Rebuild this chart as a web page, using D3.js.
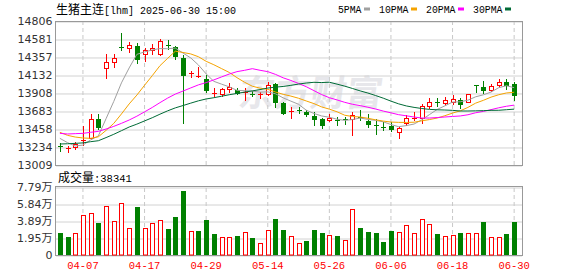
<!DOCTYPE html>
<html><head><meta charset="utf-8">
<script src="https://cdn.jsdelivr.net/npm/d3@7/dist/d3.min.js"></script>
<style>
html,body{margin:0;padding:0;background:#fff;}
svg{display:block;}
</style></head><body>
<svg id="c" width="578" height="276"></svg>
<script>
// ---------- data ----------
const dates = ["04-01","04-02","04-03","04-07","04-08","04-09","04-10","04-11","04-14","04-15",
"04-16","04-17","04-18","04-21","04-22","04-23","04-24","04-25","04-28","04-29",
"04-30","05-06","05-07","05-08","05-09","05-12","05-13","05-14","05-15","05-16",
"05-19","05-20","05-21","05-22","05-23","05-26","05-27","05-28","05-29","05-30",
"06-03","06-04","06-05","06-06","06-09","06-10","06-11","06-12","06-13","06-16",
"06-17","06-18","06-19","06-20","06-23","06-24","06-25","06-26","06-27","06-30"];
const open = [13245,13205,13230,13305,13350,13580,14225,14290,14482,14465,
14494,14394,14448,14394,14512,14477,14348,14148,14118,14078,
13900,13899,13957,13941,13912,13890,13880,13893,14016,13787,
13668,13700,13666,13620,13578,13567,13575,13578,13579,13610,
13558,13512,13488,13496,13425,13537,13590,13599,13749,13795,
13787,13799,13820,13791,14002,13982,13941,14011,14045,14016];
const high = [13285,13245,13300,13495,13645,13645,14390,14390,14652,14540,
14531,14465,14523,14581,14569,14498,14382,14182,14236,14132,
13966,13974,14028,13974,13974,13932,13916,14049,14028,13800,
13729,13729,13695,13675,13599,13641,13612,13612,13675,13695,
13641,13579,13542,13549,13487,13633,13666,13770,13841,13841,
13858,13882,13841,13899,14007,14057,14016,14078,14078,14041];
const low = [13180,13165,13205,13258,13333,13458,14090,14236,14444,14415,
14286,14311,14390,14382,14453,14336,13537,14103,14107,13916,
13870,13870,13924,13891,13820,13866,13849,13882,13737,13645,
13591,13658,13616,13508,13475,13558,13508,13517,13383,13570,
13483,13392,13446,13433,13350,13508,13570,13537,13716,13745,
13758,13766,13716,13791,13924,13903,13932,13999,13957,13820];
const close = [13235,13215,13265,13315,13580,13487,14290,14340,14475,14510,
14336,14440,14465,14560,14500,14373,14132,14158,14124,13945,
13906,13957,13986,13911,13918,13884,13892,14007,13791,13662,
13678,13695,13641,13583,13508,13599,13568,13572,13633,13602,
13517,13505,13482,13462,13467,13591,13598,13745,13791,13787,
13816,13829,13766,13891,13996,13945,13995,14041,14011,13880];
const prevClose = 13260;
const volume = [25200,21000,24800,45800,47700,36700,55700,39000,59200,30900,
55000,30900,36300,39700,29800,43100,73300,27500,27500,40100,
24100,20600,20600,21800,26300,19500,13700,28600,41200,28600,
21800,13700,16000,28600,25200,22500,21800,17200,52700,30900,
26300,25200,14900,27500,26300,34400,25200,41200,35500,24100,
21800,22900,25200,25200,25200,37800,20600,20600,24100,38341];
const ma5 = [13342,13288,13246,13258,13322,13372,13587,13802,14034,14220,
14390,14420,14445,14462,14460,14468,14406,14345,14257,14146,
14053,14018,13984,13941,13936,13931,13918,13922,13898,13847,
13806,13767,13693,13652,13621,13605,13580,13566,13576,13595,
13578,13566,13548,13514,13487,13501,13520,13573,13638,13702,
13747,13794,13798,13818,13860,13885,13919,13974,13998,13974];
const ma10 = [13417,13379,13358,13346,13342,13361,13441,13528,13646,13771,
13881,14004,14124,14248,14340,14429,14413,14395,14360,14303,
14260,14212,14164,14099,14041,13992,13968,13953,13920,13891,
13869,13842,13808,13775,13734,13706,13673,13630,13614,13608,
13592,13573,13557,13545,13541,13540,13543,13560,13576,13595,
13624,13657,13685,13728,13781,13816,13856,13886,13908,13917];
const ma20 = [13404,13396,13400,13404,13417,13429,13458,13491,13529,13570,
13618,13672,13727,13787,13844,13894,13932,13971,14009,14037,
14071,14108,14144,14174,14191,14211,14191,14174,14140,14097,
14064,14027,13986,13937,13888,13849,13821,13791,13767,13750,
13730,13708,13682,13660,13637,13623,13608,13595,13595,13601,
13608,13615,13621,13636,13661,13678,13700,13723,13742,13756];
const ma30 = [13271,13274,13279,13285,13300,13312,13351,13392,13437,13483,
13519,13559,13599,13643,13685,13722,13751,13781,13810,13833,
13849,13867,13886,13902,13919,13934,13950,13969,13981,13989,
14003,14019,14032,14041,14038,14042,14018,13993,13964,13934,
13907,13876,13843,13806,13772,13746,13728,13714,13703,13698,
13695,13691,13683,13683,13685,13687,13691,13692,13699,13706];
const priceTicks = [14806,14581,14357,14132,13908,13683,13458,13234,13009];
const volTicks = [0,19475,38950,58425,77900];
const volTickLabels = ["0","1.95万","3.89万","5.84万","7.79万"];
const dateTicks = ["04-07","04-17","04-29","05-14","05-26","06-06","06-18","06-30"];
const maNames = ["5PMA","10PMA","20PMA","30PMA"];
const maSeries = [ma5, ma10, ma20, ma30];
const maColors = ["#a0a0a0","#f5a300","#ff00ff","#006b36"];
const titleCn = "生猪主连";
const titleLatin = "[lhm] 2025-06-30 15:00";
const volLabelCn = "成交量";
const volLabelNum = ":38341";
const watermark = "东方财富";

// ---------- layout ----------
const L = 56, R = 522, T = 21, B = 165, VT = 187, VB = 255;
const UP = "#ff0000", DOWN = "#008000";
const svg = d3.select("#c");
const x = d3.scaleBand().domain(dates).range([56, 518]);
const bw = x.bandwidth();
const cx = d => Math.round(x(d) + bw / 2);
const y = d3.scaleLinear().domain([13009, 14806]).range([B, T]);
const yv = d3.scaleLinear().domain([0, 77900]).range([VB, VT]);

// watermark
svg.append("text").attr("x", 238).attr("y", 106)
  .attr("transform", "skewX(-8) translate(14,0)")
  .style("font-family", "'Noto Sans CJK SC'").style("font-weight", "bold")
  .style("font-size", "36px").style("fill", "#e7e7eb")
  .text(watermark);

// grid (horizontal)
function hgrid(scale, ticks, top, bottom) {
  const g = svg.append("g").attr("transform", `translate(${L},0.5)`)
    .call(d3.axisLeft(scale).tickValues(ticks).tickSize(-(R - L)).tickFormat(""));
  g.select(".domain").remove();
  g.selectAll("line").attr("stroke", "#d2d2d2");
}
hgrid(y, priceTicks);
hgrid(yv, volTicks);
// grid (vertical dashed)
function vgrid(top, bottom) {
  const g = svg.append("g").attr("transform", `translate(0,${bottom})`)
    .call(d3.axisBottom(x).tickValues(dateTicks).tickSize(-(bottom - top)).tickFormat(""));
  g.select(".domain").remove();
  g.selectAll("line").attr("stroke", "#c8c8c8").attr("stroke-dasharray", "4,3");
}
vgrid(T, B);
vgrid(VT, VB);

// frames
svg.append("rect").attr("x", 55.5).attr("y", 21.5).attr("width", 467).attr("height", 144)
  .attr("fill", "none").attr("stroke", "#999");
svg.append("rect").attr("x", 55.5).attr("y", 186.5).attr("width", 467).attr("height", 69)
  .attr("fill", "none").attr("stroke", "#999");

// candles
const idx = d3.range(dates.length);
const cg = svg.append("g");
idx.forEach(i => {
  const d = dates[i], c = cx(d);
  const up = close[i] >= open[i];
  const col = up ? UP : DOWN;
  cg.append("line").attr("x1", c + 0.5).attr("x2", c + 0.5)
    .attr("y1", Math.round(y(high[i]))).attr("y2", Math.round(y(low[i])) + 1)
    .attr("stroke", col).attr("stroke-width", 1);
  const yt = Math.round(y(Math.max(open[i], close[i])));
  const yb = Math.round(y(Math.min(open[i], close[i])));
  if (yb - yt <= 1) {
    cg.append("rect").attr("x", c - 2).attr("y", yt).attr("width", 5).attr("height", 1).attr("fill", col);
  } else if (up) {
    cg.append("rect").attr("x", c - 1.5).attr("y", yt + 0.5).attr("width", 4).attr("height", yb - yt)
      .attr("fill", "#fff").attr("stroke", col).attr("stroke-width", 1);
  } else {
    cg.append("rect").attr("x", c - 2).attr("y", yt).attr("width", 5).attr("height", yb - yt + 1).attr("fill", col);
  }
});

// MA lines
maSeries.forEach((s, k) => {
  svg.append("path").datum(idx)
    .attr("d", d3.line().x(i => x(dates[i]) + bw / 2).y(i => y(s[i])))
    .attr("fill", "none").attr("stroke", maColors[k]).attr("stroke-width", 1);
});

// volume bars
const vg = svg.append("g");
idx.forEach(i => {
  const pc = i === 0 ? prevClose : close[i - 1];
  const up = close[i] >= pc;
  const col = up ? UP : DOWN;
  const c = cx(dates[i]);
  const top = Math.round(yv(volume[i]));
  if (up) {
    vg.append("rect").attr("x", c - 1.5).attr("y", top + 0.5).attr("width", 4).attr("height", VB - top - 0.5)
      .attr("fill", "#fff").attr("stroke", col);
  } else {
    vg.append("rect").attr("x", c - 2).attr("y", top).attr("width", 5).attr("height", VB - top).attr("fill", col);
  }
});

// axis labels
function leftLabels(scale, ticks, fmt) {
  const g = svg.append("g").attr("transform", `translate(${L},0)`)
    .call(d3.axisLeft(scale).tickValues(ticks).tickSize(0).tickPadding(3.5).tickFormat(fmt));
  g.select(".domain").remove();
  g.selectAll("text").style("font-family", "'DejaVu Sans','Noto Sans CJK SC'")
    .style("font-size", "11px").attr("fill", "#333");
}
leftLabels(y, priceTicks, d3.format("d"));
leftLabels(yv, volTicks, (d, i) => volTickLabels[i]);

const xg = svg.append("g").attr("transform", `translate(0,${VB})`)
  .call(d3.axisBottom(x).tickValues(dateTicks).tickSize(0).tickPadding(6.5));
xg.select(".domain").remove();
xg.selectAll("text").style("font-family", "'Liberation Mono'").style("font-size", "10.5px").attr("fill", "#ff0000");

// title
const tt = svg.append("text").attr("x", 56).attr("y", 13.5).attr("fill", "#000");
tt.append("tspan").style("font-family", "'Noto Sans CJK SC'").style("font-size", "12px").text(titleCn);
tt.append("tspan").style("font-family", "'Liberation Mono'").style("font-size", "10px").text(titleLatin);

// legend
let lx = 338;
maNames.forEach((n, k) => {
  const w = 6 * n.length - 0.5;
  svg.append("text").attr("x", lx).attr("y", 12.5)
    .attr("textLength", w).attr("lengthAdjust", "spacingAndGlyphs")
    .style("font-family", "'Liberation Mono'").style("font-size", "10.5px").attr("fill", "#000").text(n);
  const sx = lx + w + 2.5;
  svg.append("rect").attr("x", sx).attr("y", 7.5).attr("width", 6).attr("height", 3).attr("fill", maColors[k]);
  lx = sx + 6 + 9;
});

// volume label
const vt = svg.append("text").attr("x", 58).attr("y", 181.5).attr("fill", "#000");
vt.append("tspan").style("font-family", "'Noto Sans CJK SC'").style("font-size", "12px").text(volLabelCn);
vt.append("tspan").style("font-family", "'Liberation Mono'").style("font-size", "10.5px").text(volLabelNum);
</script>
</body></html>
